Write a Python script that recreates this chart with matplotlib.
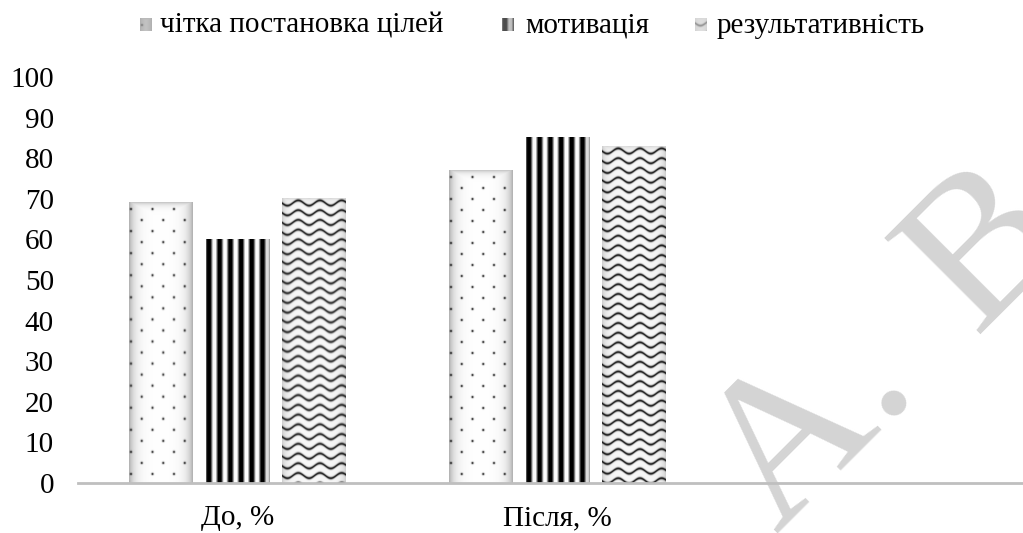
import numpy as np
import matplotlib
matplotlib.use("Agg")
import matplotlib.pyplot as plt

# --- data -------------------------------------------------------------
categories = ["До, %", "Після, %", ""]
series_names = ["чітка постановка цілей", "мотивація", "результативність"]
clear_goals = [69, 77]
motivation = [60, 85]
performance = [70, 83]
y_ticks = [0, 10, 20, 30, 40, 50, 60, 70, 80, 90, 100]

series_values = [clear_goals, motivation, performance]
textures = ["dots", "stripes", "waves"]

plt.rcParams["font.family"] = ["Liberation Serif", "DejaVu Serif"]

W, H, DPI = 1023, 533, 100
fig = plt.figure(figsize=(W / DPI, H / DPI), dpi=DPI)

# plot area in pixels
left_px, right_px = 77.5, 1023
axis_y_px, top_y_px = 483, 77
cat_px = 320.0
ax = fig.add_axes([left_px / W, (H - axis_y_px) / H,
                   (right_px - left_px) / W, (axis_y_px - top_y_px) / H])
ax.patch.set_alpha(0)
ax.set_zorder(2)
ax.set_xlim(-0.5, -0.5 + (right_px - left_px) / cat_px)
ax.set_ylim(0, 100)


# --- fill textures ------------------------------------------------------
def edge_shade(w, h, depth, scale, top_depth=0.0, top_scale=3.0):
    x = np.arange(w) + 0.5
    y = np.arange(h) + 0.5
    dx = np.minimum(x, w - x)
    fx = depth * np.exp(-dx / scale)
    fy = top_depth * np.exp(-y / top_scale)
    return 1 - np.maximum(fx[None, :], fy[:, None])


def make_texture(kind, w, h):
    X, Y = np.meshgrid(np.arange(w) + 0.5, np.arange(h) + 0.5)
    if kind == "dots":
        base = edge_shade(w, h, 0.32, 5.5, 0.25, 3.0)
        row = np.round((Y - 7) / 11.0)
        cy = 7 + row * 11.0
        offs = np.where(row % 2 == 0, 2.0, 12.75)
        cx = offs + np.round((X - offs) / 21.5) * 21.5
        d = np.hypot(X - cx, Y - cy)
        g = base * (1 - 0.85 * np.exp(-(d / 1.2) ** 2))
    elif kind == "stripes":
        t = 0.5 - 0.5 * np.cos(2 * np.pi * (X - 3.0) / 10.7)
        b = np.clip(1.35 * t - 0.2, 0, 1)
        dx = np.minimum(X, w - X)
        g = b * (1 - 0.3 * np.exp(-dx / 3.0))
        g = np.clip(g, 0, 1)
    else:
        base = 0.97 * edge_shade(w, h, 0.18, 4.0, 0.12, 3.0)
        yy = Y - 2.6 * np.sin(2 * np.pi * X / 21.7)
        m = np.mod(yy - 5.0, 9.7)
        d = np.minimum(m, 9.7 - m)
        g = base * (1 - 0.85 * np.exp(-(d / 1.35) ** 2))
    return np.dstack([g, g, g])


# --- bars -----------------------------------------------------------------
bar_w = 0.2
offsets = [-0.239, 0.0, 0.239]
for vals, off, kind in zip(series_values, offsets, textures):
    xs = np.arange(len(vals)) + off
    bars = ax.bar(xs, vals, width=bar_w, color="none", edgecolor="none", zorder=2)
    for b in bars:
        x0, y0 = b.get_x(), b.get_y()
        x1, y1 = x0 + b.get_width(), y0 + b.get_height()
        (px0, py0), (px1, py1) = ax.transData.transform([(x0, y0), (x1, y1)])
        wpx = max(int(round(px1 - px0)), 1)
        hpx = max(int(round(py1 - py0)), 1)
        ax.imshow(make_texture(kind, wpx, hpx), extent=(x0, x1, y0, y1),
                  aspect="auto", interpolation="bilinear", zorder=2)

ax.set_xlim(-0.5, -0.5 + (right_px - left_px) / cat_px)
ax.set_ylim(0, 100)

# --- axes styling ----------------------------------------------------------
for side in ["top", "right", "left"]:
    ax.spines[side].set_visible(False)
ax.spines["bottom"].set_color("#bfbfbf")
ax.spines["bottom"].set_linewidth(2.0)
ax.spines["bottom"].set_zorder(3)

ax.set_yticks(y_ticks)
ax.set_yticklabels([str(v) for v in y_ticks])
ax.set_xticks(range(len(categories)))
ax.set_xticklabels(categories)
ax.tick_params(axis="y", length=0, pad=17, labelsize=21)
ax.tick_params(axis="x", length=0, pad=16, labelsize=21)

# --- legend -----------------------------------------------------------------
legend_marker_x = [140, 502, 695]
legend_text_x = [160, 525, 717]
marker_w, marker_h = 12, 13
marker_top = 18
for name, kind, mx, tx in zip(series_names, textures, legend_marker_x, legend_text_x):
    max_ = fig.add_axes([mx / W, (H - marker_top - marker_h) / H, marker_w / W, marker_h / H])
    tex = make_texture(kind, marker_w, marker_h)
    if kind == "dots":
        tex = 0.45 + 0.35 * tex
    elif kind == "stripes":
        tex = 0.3 + 0.5 * tex
    else:
        tex = 0.55 + 0.35 * tex
    max_.imshow(tex, aspect="auto", interpolation="bilinear")
    max_.axis("off")
    fig.text(tx / W, (H - 33) / H, name, fontsize=21, ha="left", va="baseline")

# --- watermark ----------------------------------------------------------------
wm_color = "#d4d4d4"
baseline_start = (776, 533)
fig.text(baseline_start[0] / W, (H - baseline_start[1]) / H, "A.", fontsize=150,
         color=wm_color, rotation=45, rotation_mode="anchor",
         ha="left", va="baseline", zorder=0)
step = 281 / np.sqrt(2)
fig.text((baseline_start[0] + step) / W, (H - baseline_start[1] + step) / H, "B",
         fontsize=150, color=wm_color, rotation=45, rotation_mode="anchor",
         ha="left", va="baseline", zorder=0)

fig.savefig("out.png", dpi=DPI)
